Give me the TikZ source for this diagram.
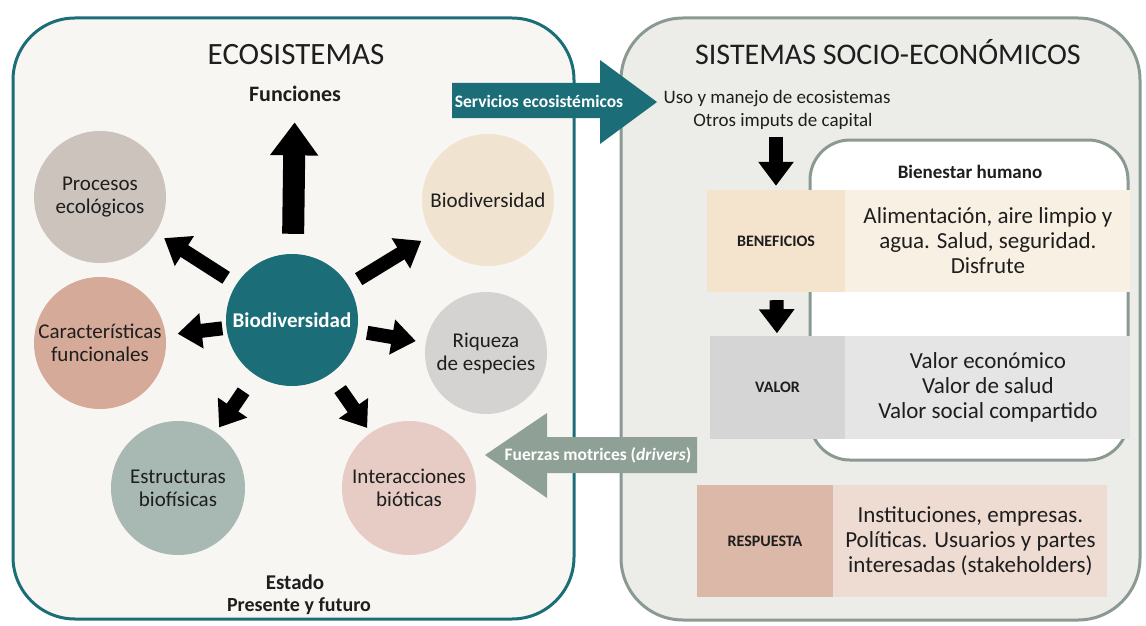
\documentclass[tikz,border=0pt]{standalone}
\usepackage{fontspec}
\setmainfont{Carlito}
\usetikzlibrary{arrows.meta,positioning}

\definecolor{ink}{RGB}{30,30,30}
\definecolor{ecoteal}{RGB}{27,110,120}
\definecolor{ecofill}{RGB}{248,246,242}
\definecolor{sseline}{RGB}{138,154,146}
\definecolor{ssefill}{RGB}{236,236,232}
\definecolor{drvcol}{RGB}{143,160,150}
\definecolor{cproc}{RGB}{204,196,188}
\definecolor{cbior}{RGB}{240,228,208}
\definecolor{ccar}{RGB}{214,170,152}
\definecolor{criq}{RGB}{212,211,210}
\definecolor{cestr}{RGB}{168,184,178}
\definecolor{cint}{RGB}{230,204,196}
\definecolor{benL}{RGB}{244,228,206}
\definecolor{benR}{RGB}{249,240,228}
\definecolor{valL}{RGB}{214,213,213}
\definecolor{valR}{RGB}{230,229,230}
\definecolor{resL}{RGB}{220,184,168}
\definecolor{resR}{RGB}{238,220,210}

\tikzset{
  circ/.style={circle,minimum size=132pt,inner sep=0pt,align=center,
    text=ink,font=\fontsize{21}{23}\selectfont},
  blk/.style={line width=14pt,-{Triangle[width=34pt,length=24pt]}},
  bigblk/.style={line width=22pt,-{Triangle[width=46pt,length=33pt]}},
  cellhead/.style={minimum height=103pt,inner sep=0pt,align=center,
    text=ink,font=\bfseries\fontsize{16}{18}\selectfont},
  cellbody/.style={minimum height=103pt,inner sep=0pt,align=center,
    text=ink,font=\fontsize{23}{25}\selectfont},
}

\begin{document}
\begin{tikzpicture}[x=1pt,y=-1pt]
\useasboundingbox (0,0) rectangle (1146,626);

% boxes
\draw[ecoteal,line width=3pt,fill=ecofill,rounded corners=62pt] (13,18) rectangle (574,619);
\draw[sseline,line width=3pt,fill=ssefill,rounded corners=62pt] (621,18) rectangle (1140,620);
\draw[sseline,line width=3pt,fill=white,rounded corners=40pt] (810,140) rectangle (1128,460);

% ecosistemas
\node[text=ink,font=\fontsize{31}{34}\selectfont] (eco) at (296,55) {ECOSISTEMAS};
\node[text=ink,font=\bfseries\fontsize{22}{24}\selectfont] (fun) at (295,94) {Funciones};
\node[circ,fill=ecoteal,text=white,font=\bfseries\fontsize{21}{23}\selectfont,minimum size=132pt] (bio) at (292,320) {Biodiversidad};
\node[circ,fill=cproc] (proc) at (100,197) {Procesos\\ecológicos};
\node[circ,fill=cbior] (bior) at (488,200) {Biodiversidad};
\node[circ,fill=ccar] (car) at (100,343) {Características\\funcionales};
\node[circ,fill=criq,minimum size=122pt] (riq) at (486,353) {Riqueza\\de especies};
\node[circ,fill=cestr,minimum size=134pt] (estr) at (178,488) {Estructuras\\biofísicas};
\node[circ,fill=cint,minimum size=134pt] (inter) at (409,488) {Interacciones\\bióticas};
\node[text=ink,font=\bfseries\fontsize{21}{23}\selectfont] (est) at (295,582) {Estado};
\node[text=ink,font=\bfseries\fontsize{20}{22}\selectfont] (pyf) at (299,606) {Presente y futuro};

\draw[bigblk,shorten <=20pt,shorten >=17pt] (bio) -- (fun);
\draw[blk,shorten <=12pt,shorten >=10pt] (bio) -- (proc);
\draw[blk,shorten <=12pt,shorten >=12pt] (bio) -- (bior);
\draw[blk,shorten <=4pt,shorten >=12pt] (bio) -- (car);
\draw[blk,shorten <=10pt,shorten >=10pt] (bio) -- (riq);
\draw[blk,shorten <=20pt,shorten >=6pt] (bio) -- (estr);
\draw[blk,shorten <=18pt,shorten >=6pt] (bio) -- (inter);

% flechas entre sistemas
\fill[ecoteal] (452,83) -- (600,83) -- (600,60) -- (657,102) -- (600,144) -- (600,118) -- (452,118) -- cycle;
\node[text=white,font=\bfseries\fontsize{17.5}{19}\selectfont] (serv) at (539,101) {Servicios ecosistémicos};
\fill[drvcol] (697,437) -- (547,437) -- (547,413) -- (485,455) -- (547,498) -- (547,473) -- (697,473) -- cycle;
\node[text=white,font=\bfseries\fontsize{17.5}{19}\selectfont] (fuer) at (598,455) {Fuerzas motrices (\textit{drivers})};

% sistemas socio-economicos
\node[text=ink,font=\fontsize{30}{33}\selectfont] (sse) at (888,52) {SISTEMAS SOCIO-ECONÓMICOS};
\node[text=ink,font=\fontsize{19}{21}\selectfont] (uso) at (777,99) {Uso y manejo de ecosistemas};
\node[text=ink,font=\fontsize{19}{21}\selectfont] (imp) at (783,121) {Otros imputs de capital};
\node[text=ink,font=\bfseries\fontsize{19}{21}\selectfont] (bh) at (970,172) {Bienestar humano};

\node[cellhead,fill=benL,minimum width=138pt,minimum height=102pt] (ben) at (776,241) {BENEFICIOS};
\node[cellbody,fill=benR,minimum width=285pt,minimum height=102pt,right=0pt of ben] (benT)
  {Alimentación, aire limpio y\\agua. Salud, seguridad.\\Disfrute};
\node[cellhead,fill=valL,minimum width=135pt] (val) at (777.5,387) {VALOR};
\node[cellbody,fill=valR,minimum width=285pt,right=0pt of val] (valT)
  {Valor económico\\Valor de salud\\Valor social compartido};
\node[cellhead,fill=resL,minimum width=136pt,minimum height=112pt] (res) at (765,541) {RESPUESTA};
\node[cellbody,fill=resR,minimum width=274pt,minimum height=112pt,right=0pt of res] (resT)
  {Instituciones, empresas.\\Políticas. Usuarios y partes\\interesadas (stakeholders)};

\draw[blk,shorten <=4pt,shorten >=4pt] (imp.south -| ben.north) -- (ben.north);
\draw[blk,shorten <=8pt,shorten >=2pt] (ben) -- (val);
\end{tikzpicture}
\end{document}
